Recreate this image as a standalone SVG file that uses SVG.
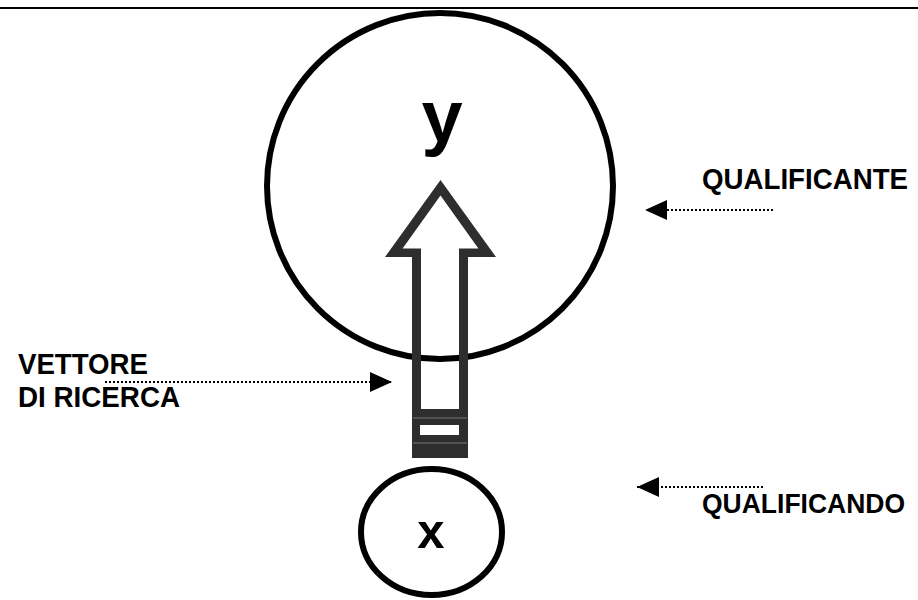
<svg xmlns="http://www.w3.org/2000/svg" width="918" height="600" viewBox="0 0 918 600">
  <defs>
    <marker id="head" markerUnits="userSpaceOnUse" markerWidth="23" markerHeight="20" refX="22" refY="10" orient="auto">
      <path d="M0,0 L22,10 L0,20 z" fill="#000"/>
    </marker>
    <style>
      .ring { fill: none; stroke: #000; stroke-width: 6; }
      .lbl { font-family: "Liberation Sans", Arial, Helvetica, sans-serif; font-weight: bold; font-size: 29px; fill: #000; }
      .var { font-family: "Liberation Sans", Arial, Helvetica, sans-serif; font-weight: bold; fill: #000; text-anchor: middle; }
      .dot { fill: none; stroke: #000; stroke-width: 2; stroke-dasharray: 2 2; marker-end: url(#head); }
    </style>
  </defs>
  <rect x="0" y="0" width="918" height="600" fill="#fff"/>
  <line x1="0" y1="8" x2="918" y2="8" stroke="#000" stroke-width="2"/>

  <g id="node-y">
    <circle class="ring" cx="440" cy="186" r="173"/>
    <text class="var" x="442" y="142" font-size="74">y</text>
  </g>

  <g id="node-x">
    <ellipse class="ring" cx="431.5" cy="532" rx="70.5" ry="63"/>
    <text class="var" x="431" y="548" font-size="49">x</text>
  </g>

  <g id="vettore-arrow">
    <path fill="#2e2e2e" fill-rule="evenodd" d="M440.5,180 L496,257 L468,257 L468,458 L412,458 L412,257 L385,257 Z M440.5,195.6 L478.4,248.5 L459,248.5 L459,409 L421,409 L421,248.5 L402.6,248.5 Z"/>
    <rect x="420" y="425" width="39" height="10" fill="#fff"/>
    <line x1="413" y1="418" x2="467" y2="418" stroke="#777" stroke-width="1"/>
    <line x1="413" y1="443" x2="467" y2="443" stroke="#777" stroke-width="1"/>
  </g>

  <g id="label-qualificante">
    <text class="lbl" x="702" y="189" textLength="206" lengthAdjust="spacingAndGlyphs">QUALIFICANTE</text>
  </g>
  <g id="label-vettore">
    <text class="lbl" x="18" y="374" textLength="130" lengthAdjust="spacingAndGlyphs">VETTORE</text>
    <text class="lbl" x="18" y="407" textLength="162" lengthAdjust="spacingAndGlyphs">DI RICERCA</text>
  </g>
  <g id="label-qualificando">
    <text class="lbl" x="702" y="513" font-size="27" textLength="203" lengthAdjust="spacingAndGlyphs" style="font-size:27px">QUALIFICANDO</text>
  </g>

  <g id="connectors">
    <line class="dot" x1="773" y1="210" x2="645" y2="210"/>
    <line class="dot" x1="105" y1="382" x2="392" y2="382"/>
    <line class="dot" x1="763" y1="487" x2="637" y2="487"/>
  </g>
</svg>
